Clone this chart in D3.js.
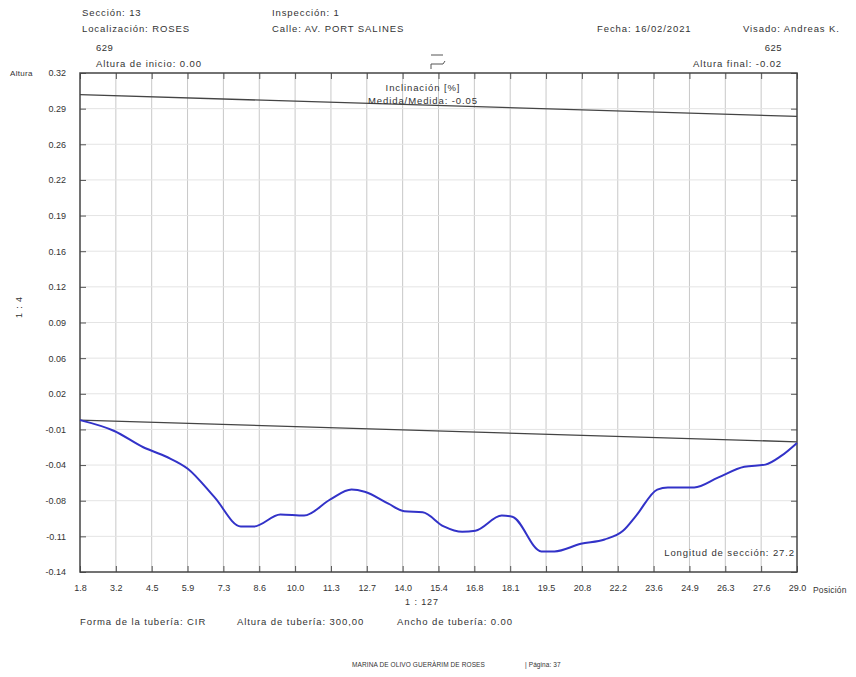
<!DOCTYPE html>
<html>
<head>
<meta charset="utf-8">
<script src="https://cdn.jsdelivr.net/npm/d3@7"></script>
<style>
  body { margin: 0; background: #fff; }
  svg { display: block; font-family: "Liberation Sans", Arial, sans-serif; }
  text { fill: #333; }
</style>
</head>
<body>
<svg id="chart" width="856" height="677"></svg>
<script>
// ---------- data ----------
const xTickLabels = ["1.8","3.2","4.5","5.9","7.3","8.6","10.0","11.3","12.7","14.0","15.4","16.8","18.1","19.5","20.8","22.2","23.6","24.9","26.3","27.6","29.0"];
const yTickLabels = ["0.32","0.29","0.26","0.22","0.19","0.16","0.12","0.09","0.06","0.02","-0.01","-0.04","-0.08","-0.11","-0.14"];
const xDomain = [1.8, 29.0];
const yDomain = [-0.14, 0.32];

// measured profile (position m, height m)
const positions = [1.8, 3.1, 4.2, 5.1, 5.9, 6.9, 7.9, 8.4, 9.4, 10.3, 11.3, 12.1, 12.6, 13.5, 14.1, 14.8, 15.6, 16.3, 16.8, 17.8, 18.2, 19.3, 19.8, 20.8, 21.7, 22.4, 22.9, 23.7, 24.1, 25.1, 26.0, 27.0, 27.8, 28.4, 29.0];
const heights   = [0.000, -0.010, -0.025, -0.034, -0.045, -0.071, -0.098, -0.098, -0.087, -0.088, -0.073, -0.064, -0.066, -0.077, -0.084, -0.085, -0.098, -0.103, -0.102, -0.088, -0.089, -0.121, -0.121, -0.114, -0.110, -0.102, -0.088, -0.064, -0.062, -0.062, -0.053, -0.043, -0.041, -0.033, -0.021];

// pipe invert (bottom) and crown (top) lines
const invertStartEnd = [0.00, -0.02];
const crownStartEnd  = [0.30, 0.28];

// ---------- layout ----------
const svg = d3.select("#chart");
const L = 80, R = 797, T = 73, B = 572;
const x = d3.scaleLinear().domain(xDomain).range([L, R]);
const y = d3.scaleLinear().domain(yDomain).range([B, T]);

const xTickVals = xTickLabels.map((d, i) => xDomain[0] + i * (xDomain[1] - xDomain[0]) / (xTickLabels.length - 1));
const yTickVals = yTickLabels.map((d, i) => yDomain[1] - i * (yDomain[1] - yDomain[0]) / (yTickLabels.length - 1));

// grid
const g = svg.append("g");
g.selectAll(".vg").data(xTickVals.slice(1, -1)).join("line")
  .attr("x1", d => x(d)).attr("x2", d => x(d)).attr("y1", T).attr("y2", B)
  .attr("stroke", "#c8c8c8").attr("stroke-width", 1);
g.selectAll(".hg").data(yTickVals.slice(1, -1)).join("line")
  .attr("x1", L).attr("x2", R).attr("y1", d => y(d)).attr("y2", d => y(d))
  .attr("stroke", "#e4e4e4").attr("stroke-width", 1);

// axes
const fmtX = (d) => xTickLabels[xTickVals.indexOf(d)];
const fmtY = (d) => yTickLabels[yTickVals.indexOf(d)];

const axB = svg.append("g").attr("transform", `translate(0,${B})`)
  .call(d3.axisBottom(x).tickValues(xTickVals).tickFormat(fmtX).tickSizeInner(-6).tickSizeOuter(0).tickPadding(13));
const axT = svg.append("g").attr("transform", `translate(0,${T})`)
  .call(d3.axisTop(x).tickValues(xTickVals).tickFormat("").tickSizeInner(-6).tickSizeOuter(0));
const axL = svg.append("g").attr("transform", `translate(${L},0)`)
  .call(d3.axisLeft(y).tickValues(yTickVals).tickFormat(fmtY).tickSizeInner(-6).tickSizeOuter(0).tickPadding(14));
const axR = svg.append("g").attr("transform", `translate(${R},0)`)
  .call(d3.axisRight(y).tickValues(yTickVals).tickFormat("").tickSizeInner(-6).tickSizeOuter(0));
[axB, axT, axL, axR].forEach(a => {
  a.select(".domain").remove();
  a.selectAll(".tick line").attr("stroke", "#555");
  a.selectAll("text").attr("font-size", 9).attr("fill", "#333")
    .attr("font-family", "Liberation Sans, Arial, sans-serif");
});

// frame
svg.append("rect").attr("x", L).attr("y", T).attr("width", R - L).attr("height", B - T)
  .attr("fill", "none").attr("stroke", "#444").attr("stroke-width", 1.5);

// crown and invert lines
const line2 = d3.line().x(d => x(d[0])).y(d => y(d[1]));
svg.append("path").datum([[xDomain[0], crownStartEnd[0]], [xDomain[1], crownStartEnd[1]]])
  .attr("d", line2).attr("stroke", "#444").attr("stroke-width", 1.3).attr("fill", "none");
svg.append("path").datum([[xDomain[0], invertStartEnd[0]], [xDomain[1], invertStartEnd[1]]])
  .attr("d", line2).attr("stroke", "#444").attr("stroke-width", 1.3).attr("fill", "none");

// profile curve
const prof = positions.map((p, i) => [p, heights[i]]);
svg.append("path").datum(prof)
  .attr("d", d3.line().x(d => x(d[0])).y(d => y(d[1])).curve(d3.curveMonotoneX))
  .attr("stroke", "#3232c8").attr("stroke-width", 2).attr("fill", "none");

// ---------- texts ----------
function txt(tx, ty, s, opts = {}) {
  const t = svg.append("text").attr("x", tx).attr("y", ty).text(s)
    .attr("font-size", opts.size || 9.5)
    .attr("letter-spacing", opts.ls != null ? opts.ls : 0.9)
    .attr("text-anchor", opts.anchor || "start");
  if (opts.rotate) t.attr("transform", `rotate(${opts.rotate},${tx},${ty})`);
  return t;
}
txt(82, 16, "Sección: 13");
txt(82, 32, "Localización: ROSES");
txt(272, 16, "Inspección: 1");
txt(272, 32, "Calle: AV. PORT SALINES");
txt(597, 32, "Fecha: 16/02/2021");
txt(743, 32, "Visado: Andreas K.");
txt(96, 51, "629", {ls: 0.5});
txt(96, 67, "Altura de inicio: 0.00");
txt(782, 51, "625", {anchor: "end", ls: 0.5});
txt(782, 67, "Altura final: -0.02", {anchor: "end"});
txt(10, 76, "Altura", {size: 8, ls: 0.3});
txt(423, 91, "Inclinación [%]", {anchor: "middle"});
txt(423, 104, "Medida/Medida: -0.05", {anchor: "middle"});
txt(795, 556, "Longitud de sección: 27.2", {anchor: "end"});
txt(813, 593, "Posición", {size: 8.5, ls: 0.2});
txt(422, 605, "1 : 127", {anchor: "middle", size: 9});
txt(22, 307, "1 : 4", {anchor: "middle", size: 9, rotate: -90});
txt(80, 625, "Forma de la tubería:  CIR");
txt(237, 625, "Altura de tubería:  300,00");
txt(397, 625, "Ancho de tubería:  0.00");
txt(352, 667, "MARINA DE OLIVO GUERÀRIM DE ROSES", {size: 6.5, ls: 0.1});
txt(525, 667, "|  Página: 37", {size: 6.5, ls: 0.1});

// little slope arrow symbol near the top centre
const ax0 = 431;
svg.append("line").attr("x1", ax0).attr("x2", ax0 + 12).attr("y1", 55).attr("y2", 55).attr("stroke", "#555").attr("stroke-width", 1);
svg.append("line").attr("x1", ax0).attr("x2", ax0 + 12).attr("y1", 64).attr("y2", 64).attr("stroke", "#555").attr("stroke-width", 1);
svg.append("line").attr("x1", ax0).attr("x2", ax0).attr("y1", 64).attr("y2", 69).attr("stroke", "#555").attr("stroke-width", 1);
svg.append("line").attr("x1", ax0 + 12).attr("x2", ax0 + 14).attr("y1", 64).attr("y2", 61).attr("stroke", "#555").attr("stroke-width", 1);
</script>
</body>
</html>
